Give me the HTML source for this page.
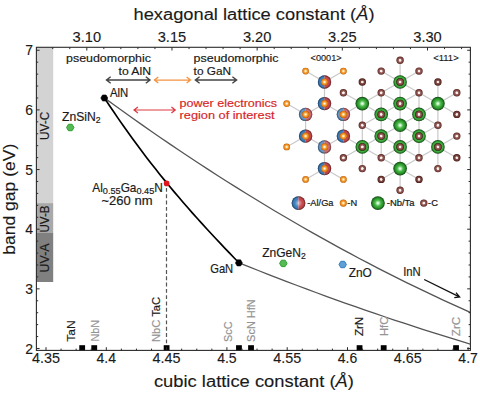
<!DOCTYPE html><html><head><meta charset="utf-8"><style>html,body{margin:0;padding:0;background:#fff;width:480px;height:394px;overflow:hidden}svg{display:block}text{font-family:"Liberation Sans",sans-serif}</style></head><body>
<svg width="480" height="394" viewBox="0 0 480 394">
<defs>
<radialGradient id="gG" cx="0.5" cy="0.5" r="0.5"><stop offset="0" stop-color="#ffffff"/><stop offset="0.15" stop-color="#c4f0c4"/><stop offset="0.42" stop-color="#4ab94a"/><stop offset="0.72" stop-color="#2a942a"/><stop offset="0.88" stop-color="#1b6a1b"/><stop offset="1" stop-color="#0c3a0c"/></radialGradient>
<radialGradient id="gGC" cx="0.5" cy="0.5" r="0.5"><stop offset="0" stop-color="#48b448"/><stop offset="0.66" stop-color="#46b246"/><stop offset="0.8" stop-color="#2f9a2f"/><stop offset="0.92" stop-color="#1a641a"/><stop offset="1" stop-color="#0c3a0c"/></radialGradient>
<radialGradient id="gC" cx="0.5" cy="0.5" r="0.5"><stop offset="0" stop-color="#ffffff"/><stop offset="0.3" stop-color="#f2e4e4"/><stop offset="0.42" stop-color="#a06a66"/><stop offset="0.8" stop-color="#7a3f3a"/><stop offset="1" stop-color="#4e1f1b"/></radialGradient>
<radialGradient id="gCd" cx="0.5" cy="0.5" r="0.5"><stop offset="0" stop-color="#ffffff"/><stop offset="0.3" stop-color="#eadada"/><stop offset="0.42" stop-color="#8a5450"/><stop offset="0.8" stop-color="#633029"/><stop offset="1" stop-color="#3e1612"/></radialGradient>
<radialGradient id="gShade" cx="0.5" cy="0.5" r="0.5"><stop offset="0" stop-color="#fff" stop-opacity="0.6"/><stop offset="0.45" stop-color="#fff" stop-opacity="0.12"/><stop offset="0.72" stop-color="#000" stop-opacity="0"/><stop offset="0.88" stop-color="#000" stop-opacity="0.3"/><stop offset="1" stop-color="#000" stop-opacity="0.55"/></radialGradient>
<radialGradient id="gO" cx="0.5" cy="0.5" r="0.5"><stop offset="0" stop-color="#ffffff"/><stop offset="0.22" stop-color="#ffe2b0"/><stop offset="0.5" stop-color="#f7a030"/><stop offset="0.85" stop-color="#e07a10"/><stop offset="1" stop-color="#b85a08"/></radialGradient>
<clipPath id="plot"><rect x="36.4" y="47.3" width="434" height="303.1"/></clipPath>
</defs>
<rect x="36.4" y="47.3" width="16.8" height="155.8" fill="#d3d3d3"/>
<rect x="36.4" y="203.1" width="16.8" height="29.4" fill="#a9a9a9"/>
<rect x="36.4" y="232.5" width="16.8" height="49.5" fill="#808080"/>
<text transform="translate(49.30,125.90) rotate(-90)" font-size="12.0" text-anchor="middle" fill="#1a1a1a" stroke="#1a1a1a" stroke-width="0.18" textLength="28" lengthAdjust="spacingAndGlyphs">UV-C</text>
<text transform="translate(49.30,219.00) rotate(-90)" font-size="12.0" text-anchor="middle" fill="#1a1a1a" stroke="#1a1a1a" stroke-width="0.18" textLength="27" lengthAdjust="spacingAndGlyphs">UV-B</text>
<text transform="translate(49.30,257.90) rotate(-90)" font-size="12.0" text-anchor="middle" fill="#1a1a1a" stroke="#1a1a1a" stroke-width="0.18" textLength="29" lengthAdjust="spacingAndGlyphs">UV-A</text>
<line x1="166.5" y1="187.95" x2="166.5" y2="350.4" stroke="#555" stroke-width="1.2" stroke-dasharray="3.9,2.41"/>
<g clip-path="url(#plot)">
<path d="M104.40,97.90L113.83,104.75L123.25,111.53L132.68,118.24L142.10,124.88L151.53,131.45L160.95,137.95L170.38,144.38L179.81,150.74L189.23,157.02L198.66,163.24L208.08,169.39L217.51,175.47L226.93,181.47L236.36,187.41L245.78,193.27L255.21,199.07L264.64,204.80L274.06,210.45L283.49,216.04L292.91,221.56L302.34,227.00L311.76,232.38L321.19,237.68L330.62,242.92L340.04,248.09L349.47,253.18L358.89,258.21L368.32,263.17L377.74,268.06L387.17,272.88L396.59,277.63L406.02,282.31L415.45,286.92L424.87,291.46L434.30,295.93L443.72,300.33L453.15,304.66L462.57,308.93L472.00,313.12" fill="none" stroke="#555" stroke-width="1.3" stroke-linejoin="round"/>
<path d="M238.90,262.78L248.61,266.67L258.32,270.52L268.04,274.33L277.75,278.09L287.46,281.82L297.18,285.50L306.89,289.14L316.60,292.74L326.31,296.29L336.02,299.81L345.74,303.28L355.45,306.71L365.16,310.10L374.88,313.45L384.59,316.75L394.30,320.02L404.01,323.24L413.73,326.42L423.44,329.56L433.15,332.65L442.86,335.71L452.58,338.72L462.29,341.69L472.00,344.62" fill="none" stroke="#555" stroke-width="1.3" stroke-linejoin="round"/>
<path d="M104.40,97.88L109.04,104.93L113.68,111.84L118.31,118.63L122.95,125.30L127.59,131.84L132.23,138.27L136.87,144.60L141.50,150.81L146.14,156.92L150.78,162.93L155.42,168.84L160.06,174.66L164.69,180.38L169.33,186.03L173.97,191.59L178.61,197.07L183.24,202.47L187.88,207.81L192.52,213.07L197.16,218.27L201.80,223.41L206.43,228.50L211.07,233.52L215.71,238.50L220.35,243.44L224.99,248.33L229.62,253.18L234.26,257.99L238.90,262.78" fill="none" stroke="#000" stroke-width="1.7" stroke-linejoin="round"/>
</g>
<polygon points="107.80,98.00 106.05,101.03 102.55,101.03 100.80,98.00 102.55,94.97 106.05,94.97" fill="#000" stroke="#000" stroke-width="0.6"/>
<polygon points="242.40,262.90 240.65,265.93 237.15,265.93 235.40,262.90 237.15,259.87 240.65,259.87" fill="#000" stroke="#000" stroke-width="0.6"/>
<circle cx="166.6" cy="183.4" r="2.85" fill="#e0161e"/>
<polygon points="73.95,127.50 72.10,130.70 68.40,130.70 66.55,127.50 68.40,124.30 72.10,124.30" fill="#55b955" stroke="#2ca02c" stroke-width="1"/>
<polygon points="287.00,263.40 285.15,266.60 281.45,266.60 279.60,263.40 281.45,260.20 285.15,260.20" fill="#55b955" stroke="#2ca02c" stroke-width="1"/>
<polygon points="346.40,264.50 344.55,267.70 340.85,267.70 339.00,264.50 340.85,261.30 344.55,261.30" fill="#5e9fd6" stroke="#2f7fc1" stroke-width="1"/>
<rect x="79.28" y="345.2" width="5.8" height="5.8" fill="#000"/>
<rect x="91.34" y="345.2" width="5.8" height="5.8" fill="#000"/>
<rect x="163.70" y="345.2" width="5.8" height="5.8" fill="#000"/>
<rect x="236.06" y="345.2" width="5.8" height="5.8" fill="#000"/>
<rect x="248.12" y="345.2" width="5.8" height="5.8" fill="#000"/>
<rect x="356.66" y="345.2" width="5.8" height="5.8" fill="#000"/>
<rect x="380.78" y="345.2" width="5.8" height="5.8" fill="#000"/>
<rect x="453.14" y="345.2" width="5.8" height="5.8" fill="#000"/>
<rect x="36.4" y="47.3" width="434.0" height="303.1" fill="none" stroke="#2b2b2b" stroke-width="1.1"/>
<path d="M36.4,348.50h3.2M470.4,348.50h-3.2M36.4,336.57h1.8M470.4,336.57h-1.8M36.4,324.64h1.8M470.4,324.64h-1.8M36.4,312.71h1.8M470.4,312.71h-1.8M36.4,300.78h1.8M470.4,300.78h-1.8M36.4,288.85h3.2M470.4,288.85h-3.2M36.4,276.92h1.8M470.4,276.92h-1.8M36.4,264.99h1.8M470.4,264.99h-1.8M36.4,253.06h1.8M470.4,253.06h-1.8M36.4,241.13h1.8M470.4,241.13h-1.8M36.4,229.20h3.2M470.4,229.20h-3.2M36.4,217.27h1.8M470.4,217.27h-1.8M36.4,205.34h1.8M470.4,205.34h-1.8M36.4,193.41h1.8M470.4,193.41h-1.8M36.4,181.48h1.8M470.4,181.48h-1.8M36.4,169.55h3.2M470.4,169.55h-3.2M36.4,157.62h1.8M470.4,157.62h-1.8M36.4,145.69h1.8M470.4,145.69h-1.8M36.4,133.76h1.8M470.4,133.76h-1.8M36.4,121.83h1.8M470.4,121.83h-1.8M36.4,109.90h3.2M470.4,109.90h-3.2M36.4,97.97h1.8M470.4,97.97h-1.8M36.4,86.04h1.8M470.4,86.04h-1.8M36.4,74.11h1.8M470.4,74.11h-1.8M36.4,62.18h1.8M470.4,62.18h-1.8M36.4,50.25h3.2M470.4,50.25h-3.2M46.00,350.4v-3.2M61.08,350.4v-1.8M76.15,350.4v-1.8M91.22,350.4v-1.8M106.30,350.4v-3.2M121.38,350.4v-1.8M136.45,350.4v-1.8M151.53,350.4v-1.8M166.60,350.4v-3.2M181.67,350.4v-1.8M196.75,350.4v-1.8M211.83,350.4v-1.8M226.90,350.4v-3.2M241.97,350.4v-1.8M257.05,350.4v-1.8M272.12,350.4v-1.8M287.20,350.4v-3.2M302.28,350.4v-1.8M317.35,350.4v-1.8M332.42,350.4v-1.8M347.50,350.4v-3.2M362.58,350.4v-1.8M377.65,350.4v-1.8M392.72,350.4v-1.8M407.80,350.4v-3.2M422.88,350.4v-1.8M437.95,350.4v-1.8M453.03,350.4v-1.8M468.10,350.4v-3.2M52.73,47.3v1.8M69.77,47.3v1.8M86.80,47.3v3.2M103.83,47.3v1.8M120.87,47.3v1.8M137.90,47.3v1.8M154.94,47.3v1.8M171.97,47.3v3.2M189.01,47.3v1.8M206.04,47.3v1.8M223.08,47.3v1.8M240.11,47.3v1.8M257.15,47.3v3.2M274.18,47.3v1.8M291.22,47.3v1.8M308.25,47.3v1.8M325.29,47.3v1.8M342.32,47.3v3.2M359.36,47.3v1.8M376.39,47.3v1.8M393.43,47.3v1.8M410.46,47.3v1.8M427.50,47.3v3.2M444.53,47.3v1.8M461.57,47.3v1.8" stroke="#2b2b2b" stroke-width="1" fill="none"/>
<text x="33.00" y="353.50" font-size="14.2" text-anchor="end" fill="#1a1a1a" stroke="#1a1a1a" stroke-width="0.12" textLength="7.8" lengthAdjust="spacingAndGlyphs">2</text>
<text x="33.00" y="293.85" font-size="14.2" text-anchor="end" fill="#1a1a1a" stroke="#1a1a1a" stroke-width="0.12" textLength="7.8" lengthAdjust="spacingAndGlyphs">3</text>
<text x="33.00" y="234.20" font-size="14.2" text-anchor="end" fill="#1a1a1a" stroke="#1a1a1a" stroke-width="0.12" textLength="7.8" lengthAdjust="spacingAndGlyphs">4</text>
<text x="33.00" y="174.55" font-size="14.2" text-anchor="end" fill="#1a1a1a" stroke="#1a1a1a" stroke-width="0.12" textLength="7.8" lengthAdjust="spacingAndGlyphs">5</text>
<text x="33.00" y="114.90" font-size="14.2" text-anchor="end" fill="#1a1a1a" stroke="#1a1a1a" stroke-width="0.12" textLength="7.8" lengthAdjust="spacingAndGlyphs">6</text>
<text x="33.00" y="55.25" font-size="14.2" text-anchor="end" fill="#1a1a1a" stroke="#1a1a1a" stroke-width="0.12" textLength="7.8" lengthAdjust="spacingAndGlyphs">7</text>
<text x="46.00" y="363.40" font-size="14.0" text-anchor="middle" fill="#1a1a1a" stroke="#1a1a1a" stroke-width="0.12" textLength="28" lengthAdjust="spacingAndGlyphs">4.35</text>
<text x="106.30" y="363.40" font-size="14.0" text-anchor="middle" fill="#1a1a1a" stroke="#1a1a1a" stroke-width="0.12" textLength="19.5" lengthAdjust="spacingAndGlyphs">4.4</text>
<text x="166.60" y="363.40" font-size="14.0" text-anchor="middle" fill="#1a1a1a" stroke="#1a1a1a" stroke-width="0.12" textLength="28" lengthAdjust="spacingAndGlyphs">4.45</text>
<text x="226.90" y="363.40" font-size="14.0" text-anchor="middle" fill="#1a1a1a" stroke="#1a1a1a" stroke-width="0.12" textLength="19.5" lengthAdjust="spacingAndGlyphs">4.5</text>
<text x="287.20" y="363.40" font-size="14.0" text-anchor="middle" fill="#1a1a1a" stroke="#1a1a1a" stroke-width="0.12" textLength="28" lengthAdjust="spacingAndGlyphs">4.55</text>
<text x="347.50" y="363.40" font-size="14.0" text-anchor="middle" fill="#1a1a1a" stroke="#1a1a1a" stroke-width="0.12" textLength="19.5" lengthAdjust="spacingAndGlyphs">4.6</text>
<text x="407.80" y="363.40" font-size="14.0" text-anchor="middle" fill="#1a1a1a" stroke="#1a1a1a" stroke-width="0.12" textLength="28" lengthAdjust="spacingAndGlyphs">4.65</text>
<text x="468.10" y="363.40" font-size="14.0" text-anchor="middle" fill="#1a1a1a" stroke="#1a1a1a" stroke-width="0.12" textLength="19.5" lengthAdjust="spacingAndGlyphs">4.7</text>
<text x="86.80" y="42.20" font-size="14.0" text-anchor="middle" fill="#1a1a1a" stroke="#1a1a1a" stroke-width="0.12" textLength="28.5" lengthAdjust="spacingAndGlyphs">3.10</text>
<text x="171.97" y="42.20" font-size="14.0" text-anchor="middle" fill="#1a1a1a" stroke="#1a1a1a" stroke-width="0.12" textLength="28.5" lengthAdjust="spacingAndGlyphs">3.15</text>
<text x="257.15" y="42.20" font-size="14.0" text-anchor="middle" fill="#1a1a1a" stroke="#1a1a1a" stroke-width="0.12" textLength="28.5" lengthAdjust="spacingAndGlyphs">3.20</text>
<text x="342.32" y="42.20" font-size="14.0" text-anchor="middle" fill="#1a1a1a" stroke="#1a1a1a" stroke-width="0.12" textLength="28.5" lengthAdjust="spacingAndGlyphs">3.25</text>
<text x="427.50" y="42.20" font-size="14.0" text-anchor="middle" fill="#1a1a1a" stroke="#1a1a1a" stroke-width="0.12" textLength="28.5" lengthAdjust="spacingAndGlyphs">3.30</text>
<text x="254.00" y="19.70" font-size="15.6" text-anchor="middle" fill="#1a1a1a" stroke="#1a1a1a" stroke-width="0.12" textLength="241" lengthAdjust="spacingAndGlyphs">hexagonal lattice constant (<tspan font-style="italic">Å</tspan>)</text>
<text x="253.90" y="386.70" font-size="15.6" text-anchor="middle" fill="#1a1a1a" stroke="#1a1a1a" stroke-width="0.12" textLength="200" lengthAdjust="spacingAndGlyphs">cubic lattice constant (<tspan font-style="italic">Å</tspan>)</text>
<text transform="translate(15.20,199.20) rotate(-90)" font-size="15.6" text-anchor="middle" fill="#1a1a1a" stroke="#1a1a1a" stroke-width="0.12" textLength="111" lengthAdjust="spacingAndGlyphs">band gap (eV)</text>
<text x="110.00" y="97.30" font-size="11.9" text-anchor="start" fill="#1a1a1a" stroke="#1a1a1a" stroke-width="0.18" textLength="18.3" lengthAdjust="spacingAndGlyphs">AlN</text>
<text x="210.20" y="273.40" font-size="12.2" text-anchor="start" fill="#1a1a1a" stroke="#1a1a1a" stroke-width="0.18" textLength="23" lengthAdjust="spacingAndGlyphs">GaN</text>
<text x="62.0" y="120.8" font-size="11.9" fill="#1a1a1a" stroke="#1a1a1a" stroke-width="0.18" textLength="38.5" lengthAdjust="spacingAndGlyphs">ZnSiN<tspan font-size="8.5" dy="2">2</tspan></text>
<text x="262.2" y="256.9" font-size="11.9" fill="#1a1a1a" stroke="#1a1a1a" stroke-width="0.18" textLength="43.5" lengthAdjust="spacingAndGlyphs">ZnGeN<tspan font-size="8.5" dy="2">2</tspan></text>
<text x="348.70" y="276.90" font-size="11.9" text-anchor="start" fill="#1a1a1a" stroke="#1a1a1a" stroke-width="0.18" textLength="23" lengthAdjust="spacingAndGlyphs">ZnO</text>
<text x="403.20" y="276.30" font-size="11.9" text-anchor="start" fill="#1a1a1a" stroke="#1a1a1a" stroke-width="0.18" textLength="17.5" lengthAdjust="spacingAndGlyphs">InN</text>
<path d="M424.2,279.5L459.4,296.8M456.0,292.6L459.6,296.9L454.3,297.7" stroke="#111" stroke-width="1.35" fill="none"/>
<text x="92.3" y="192.3" font-size="11.9" fill="#1a1a1a" stroke="#1a1a1a" stroke-width="0.18" textLength="70.5" lengthAdjust="spacingAndGlyphs">Al<tspan font-size="9.2" dy="1.6">0.55</tspan><tspan dy="-1.6">Ga</tspan><tspan font-size="9.2" dy="1.6">0.45</tspan><tspan dy="-1.6">N</tspan></text>
<text x="127.00" y="205.00" font-size="11.9" text-anchor="middle" fill="#1a1a1a" stroke="#1a1a1a" stroke-width="0.18" textLength="51" lengthAdjust="spacingAndGlyphs">~260 nm</text>
<text x="151.00" y="62.40" font-size="11.6" text-anchor="end" fill="#1a1a1a" stroke="#1a1a1a" stroke-width="0.18" textLength="85" lengthAdjust="spacingAndGlyphs">pseudomorphic</text>
<text x="151.00" y="74.70" font-size="11.6" text-anchor="end" fill="#1a1a1a" stroke="#1a1a1a" stroke-width="0.18" textLength="32.5" lengthAdjust="spacingAndGlyphs">to AlN</text>
<text x="193.60" y="62.40" font-size="11.6" text-anchor="start" fill="#1a1a1a" stroke="#1a1a1a" stroke-width="0.18" textLength="85" lengthAdjust="spacingAndGlyphs">pseudomorphic</text>
<text x="193.60" y="74.70" font-size="11.6" text-anchor="start" fill="#1a1a1a" stroke="#1a1a1a" stroke-width="0.18" textLength="37.5" lengthAdjust="spacingAndGlyphs">to GaN</text>
<path d="M106.5,80.0H150.0M110.7,76.8L106.5,80.0L110.7,83.2M145.8,76.8L150.0,80.0L145.8,83.2" stroke="#444" stroke-width="1.4" fill="none"/>
<path d="M154.4,80.0H190.5M158.3,77.0L154.4,80.0L158.3,83.0M186.6,77.0L190.5,80.0L186.6,83.0" stroke="#f5923e" stroke-width="1.25" fill="none"/>
<path d="M195.4,80.0H236.6M199.6,76.8L195.4,80.0L199.6,83.2M232.4,76.8L236.6,80.0L232.4,83.2" stroke="#444" stroke-width="1.4" fill="none"/>
<path d="M134.0,110.0H175.3M137.9,107.0L134.0,110.0L137.9,113.0M171.4,107.0L175.3,110.0L171.4,113.0" stroke="#dd3a40" stroke-width="1.2" fill="none"/>
<text x="179.60" y="107.20" font-size="11.6" text-anchor="start" fill="#d62728" stroke="#d62728" stroke-width="0.18" textLength="97.5" lengthAdjust="spacingAndGlyphs">power electronics</text>
<text x="179.60" y="118.80" font-size="11.6" text-anchor="start" fill="#d62728" stroke="#d62728" stroke-width="0.18" textLength="95" lengthAdjust="spacingAndGlyphs">region of interest</text>
<text transform="translate(75.00,341.80) rotate(-90)" font-size="11.6" text-anchor="start" fill="#1a1a1a" stroke="#1a1a1a" stroke-width="0.18" textLength="21.5" lengthAdjust="spacingAndGlyphs">TaN</text>
<text transform="translate(98.60,341.60) rotate(-90)" font-size="11.6" text-anchor="start" fill="#939393" stroke="#939393" stroke-width="0.18" textLength="21.5" lengthAdjust="spacingAndGlyphs">NbN</text>
<text transform="translate(160.0,342.0) rotate(-90)" font-size="11.6" fill="#1a1a1a" stroke="#1a1a1a" stroke-width="0.18" textLength="45" lengthAdjust="spacingAndGlyphs"><tspan fill="#939393" stroke="#939393">NbC</tspan> TaC</text>
<text transform="translate(232.40,341.90) rotate(-90)" font-size="11.6" text-anchor="start" fill="#939393" stroke="#939393" stroke-width="0.18" textLength="20.5" lengthAdjust="spacingAndGlyphs">ScC</text>
<text transform="translate(255.30,341.90) rotate(-90)" font-size="11.6" text-anchor="start" fill="#939393" stroke="#939393" stroke-width="0.18" textLength="42.6" lengthAdjust="spacingAndGlyphs">ScN HfN</text>
<text transform="translate(363.00,336.10) rotate(-90)" font-size="11.6" text-anchor="start" fill="#1a1a1a" stroke="#1a1a1a" stroke-width="0.18" textLength="19.2" lengthAdjust="spacingAndGlyphs">ZrN</text>
<text transform="translate(387.70,336.00) rotate(-90)" font-size="11.6" text-anchor="start" fill="#939393" stroke="#939393" stroke-width="0.18" textLength="19.2" lengthAdjust="spacingAndGlyphs">HfC</text>
<text transform="translate(460.10,336.20) rotate(-90)" font-size="11.6" text-anchor="start" fill="#939393" stroke="#939393" stroke-width="0.18" textLength="19.5" lengthAdjust="spacingAndGlyphs">ZrC</text>
<path d="M400.1,125.3L400.1,146.9M419.0,157.8L437.9,146.9M437.9,103.6L437.9,125.3M362.3,146.9L381.2,136.1M419.0,92.8L419.0,114.4M362.3,82.0L362.3,103.6M381.2,157.8L400.1,146.9M400.1,168.6L419.0,179.4M343.4,114.4L362.3,103.6M362.3,125.3L381.2,136.1M419.0,114.4L419.0,136.1M419.0,136.1L437.9,146.9M400.1,103.6L400.1,125.3M381.2,92.8L381.2,114.4M343.4,136.1L362.3,146.9M381.2,92.8L400.1,82.0M437.9,103.6L456.8,114.4M419.0,114.4L437.9,103.6M362.3,146.9L381.2,157.8M400.1,146.9L400.1,168.6M400.1,82.0L419.0,92.8M437.9,125.3L437.9,146.9M437.9,146.9L456.8,157.8M381.2,136.1L400.1,146.9M362.3,103.6L362.3,125.3M381.2,157.8L400.1,168.6M400.1,103.6L419.0,92.8M381.2,114.4L381.2,136.1M381.2,114.4L400.1,103.6M400.1,125.3L419.0,136.1M381.2,179.4L400.1,168.6M400.1,60.3L400.1,82.0M419.0,136.1L419.0,157.8M400.1,146.9L419.0,136.1M400.1,168.6L419.0,157.8M343.4,92.8L362.3,103.6M362.3,103.6L381.2,92.8M437.9,82.0L437.9,103.6M362.3,125.3L381.2,114.4M400.1,168.6L400.1,190.3M381.2,71.1L400.1,82.0M400.1,103.6L419.0,114.4M419.0,92.8L437.9,103.6M437.9,103.6L456.8,92.8M381.2,114.4L400.1,125.3M381.2,136.1L381.2,157.8M343.4,157.8L362.3,146.9M362.3,125.3L362.3,146.9M400.1,146.9L419.0,157.8M437.9,146.9L437.9,168.6M381.2,136.1L400.1,125.3M400.1,82.0L419.0,71.1M362.3,146.9L362.3,168.6M381.2,92.8L400.1,103.6M437.9,146.9L456.8,136.1M419.0,114.4L437.9,125.3M400.1,82.0L400.1,103.6M362.3,103.6L381.2,114.4M400.1,125.3L419.0,114.4M419.0,136.1L437.9,125.3M324.5,82.0L305.6,71.1M324.5,82.0L343.4,71.1M324.5,82.0L324.5,103.6M324.5,103.6L305.6,114.4M324.5,103.6L343.4,114.4M305.6,114.4L286.7,103.6M305.6,114.4L305.6,136.1M343.4,114.4L343.4,136.1M305.6,136.1L286.7,146.9M305.6,136.1L324.5,146.9M343.4,136.1L324.5,146.9M324.5,146.9L324.5,168.6M324.5,168.6L305.6,179.4M324.5,168.6L343.4,179.4" stroke="#c9c9c9" stroke-width="1.2" fill="none"/>
<circle cx="400.1" cy="60.3" r="3.7" fill="url(#gC)"/>
<circle cx="381.2" cy="71.1" r="3.7" fill="url(#gC)"/>
<circle cx="419.0" cy="71.1" r="3.7" fill="url(#gC)"/>
<circle cx="362.3" cy="82.0" r="3.7" fill="url(#gCd)"/>
<circle cx="437.9" cy="82.0" r="3.7" fill="url(#gCd)"/>
<circle cx="343.4" cy="92.8" r="3.7" fill="url(#gC)"/>
<circle cx="381.2" cy="92.8" r="3.7" fill="url(#gC)"/>
<circle cx="419.0" cy="92.8" r="3.7" fill="url(#gC)"/>
<circle cx="456.8" cy="92.8" r="3.7" fill="url(#gC)"/>
<circle cx="456.8" cy="114.4" r="3.7" fill="url(#gCd)"/>
<circle cx="362.3" cy="125.3" r="3.7" fill="url(#gC)"/>
<circle cx="437.9" cy="125.3" r="3.7" fill="url(#gC)"/>
<circle cx="456.8" cy="136.1" r="3.7" fill="url(#gC)"/>
<circle cx="343.4" cy="157.8" r="3.7" fill="url(#gC)"/>
<circle cx="381.2" cy="157.8" r="3.7" fill="url(#gC)"/>
<circle cx="419.0" cy="157.8" r="3.7" fill="url(#gC)"/>
<circle cx="456.8" cy="157.8" r="3.7" fill="url(#gCd)"/>
<circle cx="362.3" cy="168.6" r="3.7" fill="url(#gC)"/>
<circle cx="437.9" cy="168.6" r="3.7" fill="url(#gC)"/>
<circle cx="381.2" cy="179.4" r="3.7" fill="url(#gCd)"/>
<circle cx="419.0" cy="179.4" r="3.7" fill="url(#gCd)"/>
<circle cx="400.1" cy="190.3" r="3.7" fill="url(#gC)"/>
<circle cx="362.3" cy="103.6" r="6.8" fill="url(#gG)"/>
<circle cx="437.9" cy="103.6" r="6.8" fill="url(#gG)"/>
<circle cx="400.1" cy="125.3" r="6.8" fill="url(#gG)"/>
<circle cx="400.1" cy="168.6" r="6.8" fill="url(#gG)"/>
<circle cx="400.1" cy="82.0" r="6.8" fill="url(#gGC)"/>
<circle cx="400.1" cy="82.0" r="4.0" fill="#1e6a1e"/>
<circle cx="400.1" cy="82.0" r="3.7" fill="url(#gC)"/>
<circle cx="400.1" cy="103.6" r="6.8" fill="url(#gGC)"/>
<circle cx="400.1" cy="103.6" r="4.0" fill="#1e6a1e"/>
<circle cx="400.1" cy="103.6" r="3.7" fill="url(#gC)"/>
<circle cx="381.2" cy="114.4" r="6.8" fill="url(#gGC)"/>
<circle cx="381.2" cy="114.4" r="4.0" fill="#1e6a1e"/>
<circle cx="381.2" cy="114.4" r="3.7" fill="url(#gC)"/>
<circle cx="419.0" cy="114.4" r="6.8" fill="url(#gGC)"/>
<circle cx="419.0" cy="114.4" r="4.0" fill="#1e6a1e"/>
<circle cx="419.0" cy="114.4" r="3.7" fill="url(#gC)"/>
<circle cx="381.2" cy="136.1" r="6.8" fill="url(#gGC)"/>
<circle cx="381.2" cy="136.1" r="4.0" fill="#1e6a1e"/>
<circle cx="381.2" cy="136.1" r="3.7" fill="url(#gC)"/>
<circle cx="419.0" cy="136.1" r="6.8" fill="url(#gGC)"/>
<circle cx="419.0" cy="136.1" r="4.0" fill="#1e6a1e"/>
<circle cx="419.0" cy="136.1" r="3.7" fill="url(#gC)"/>
<circle cx="362.3" cy="146.9" r="6.8" fill="url(#gGC)"/>
<circle cx="362.3" cy="146.9" r="4.0" fill="#1e6a1e"/>
<circle cx="362.3" cy="146.9" r="3.7" fill="url(#gC)"/>
<circle cx="400.1" cy="146.9" r="6.8" fill="url(#gGC)"/>
<circle cx="400.1" cy="146.9" r="4.0" fill="#1e6a1e"/>
<circle cx="400.1" cy="146.9" r="3.7" fill="url(#gC)"/>
<circle cx="437.9" cy="146.9" r="6.8" fill="url(#gGC)"/>
<circle cx="437.9" cy="146.9" r="4.0" fill="#1e6a1e"/>
<circle cx="437.9" cy="146.9" r="3.7" fill="url(#gC)"/>
<circle cx="305.6" cy="71.1" r="3.4" fill="url(#gO)"/>
<circle cx="343.4" cy="71.1" r="3.4" fill="url(#gO)"/>
<circle cx="286.7" cy="103.6" r="3.4" fill="url(#gO)"/>
<circle cx="286.7" cy="146.9" r="3.4" fill="url(#gO)"/>
<circle cx="305.6" cy="179.4" r="3.4" fill="url(#gO)"/>
<circle cx="343.4" cy="179.4" r="3.4" fill="url(#gO)"/>
<path d="M324.5,75.3A6.7,6.7 0 0 0 324.5,88.7Z" fill="#3d7fc0"/>
<path d="M324.5,75.3A6.7,6.7 0 0 1 324.5,88.7Z" fill="#c9474d"/>
<circle cx="324.5" cy="82.0" r="6.7" fill="url(#gShade)"/>
<circle cx="324.5" cy="82.0" r="3.6" fill="url(#gO)"/>
<path d="M324.5,96.9A6.7,6.7 0 0 0 324.5,110.3Z" fill="#3d7fc0"/>
<path d="M324.5,96.9A6.7,6.7 0 0 1 324.5,110.3Z" fill="#c9474d"/>
<circle cx="324.5" cy="103.6" r="6.7" fill="url(#gShade)"/>
<circle cx="324.5" cy="103.6" r="3.6" fill="url(#gO)"/>
<path d="M305.6,107.7A6.7,6.7 0 0 0 305.6,121.1Z" fill="#3d7fc0" fill-opacity="0.78"/>
<path d="M305.6,107.7A6.7,6.7 0 0 1 305.6,121.1Z" fill="#c9474d" fill-opacity="0.78"/>
<circle cx="305.6" cy="114.4" r="6.7" fill="url(#gShade)"/>
<circle cx="305.6" cy="114.4" r="3.6" fill="url(#gO)"/>
<path d="M343.4,107.7A6.7,6.7 0 0 0 343.4,121.1Z" fill="#3d7fc0" fill-opacity="0.78"/>
<path d="M343.4,107.7A6.7,6.7 0 0 1 343.4,121.1Z" fill="#c9474d" fill-opacity="0.78"/>
<circle cx="343.4" cy="114.4" r="6.7" fill="url(#gShade)"/>
<circle cx="343.4" cy="114.4" r="3.6" fill="url(#gO)"/>
<path d="M305.6,129.4A6.7,6.7 0 0 0 305.6,142.8Z" fill="#3d7fc0"/>
<path d="M305.6,129.4A6.7,6.7 0 0 1 305.6,142.8Z" fill="#c9474d"/>
<circle cx="305.6" cy="136.1" r="6.7" fill="url(#gShade)"/>
<circle cx="305.6" cy="136.1" r="3.6" fill="url(#gO)"/>
<path d="M343.4,129.4A6.7,6.7 0 0 0 343.4,142.8Z" fill="#3d7fc0"/>
<path d="M343.4,129.4A6.7,6.7 0 0 1 343.4,142.8Z" fill="#c9474d"/>
<circle cx="343.4" cy="136.1" r="6.7" fill="url(#gShade)"/>
<circle cx="343.4" cy="136.1" r="3.6" fill="url(#gO)"/>
<path d="M324.5,140.2A6.7,6.7 0 0 0 324.5,153.6Z" fill="#3d7fc0" fill-opacity="0.78"/>
<path d="M324.5,140.2A6.7,6.7 0 0 1 324.5,153.6Z" fill="#c9474d" fill-opacity="0.78"/>
<circle cx="324.5" cy="146.9" r="6.7" fill="url(#gShade)"/>
<circle cx="324.5" cy="146.9" r="3.6" fill="url(#gO)"/>
<path d="M324.5,161.9A6.7,6.7 0 0 0 324.5,175.3Z" fill="#3d7fc0"/>
<path d="M324.5,161.9A6.7,6.7 0 0 1 324.5,175.3Z" fill="#c9474d"/>
<circle cx="324.5" cy="168.6" r="6.7" fill="url(#gShade)"/>
<circle cx="324.5" cy="168.6" r="3.6" fill="url(#gO)"/>
<text x="310.60" y="61.30" font-size="8.8" text-anchor="start" fill="#1a1a1a" stroke="#1a1a1a" stroke-width="0.15" textLength="31" lengthAdjust="spacingAndGlyphs">&lt;0001&gt;</text>
<text x="433.20" y="61.30" font-size="8.8" text-anchor="start" fill="#1a1a1a" stroke="#1a1a1a" stroke-width="0.15" textLength="25.5" lengthAdjust="spacingAndGlyphs">&lt;111&gt;</text>
<path d="M298.5,196.2A6.9,6.9 0 0 0 298.5,210.0Z" fill="#3d7fc0"/>
<path d="M298.5,196.2A6.9,6.9 0 0 1 298.5,210.0Z" fill="#c9474d"/>
<circle cx="298.5" cy="203.1" r="6.9" fill="url(#gShade)"/>
<text x="307.30" y="206.30" font-size="9.3" text-anchor="start" fill="#1a1a1a" stroke="#1a1a1a" stroke-width="0.22" textLength="26.2" lengthAdjust="spacingAndGlyphs">-Al/Ga</text>
<circle cx="343.3" cy="203.1" r="3.6" fill="url(#gO)"/>
<text x="347.30" y="206.30" font-size="9.3" text-anchor="start" fill="#1a1a1a" stroke="#1a1a1a" stroke-width="0.22" textLength="9.8" lengthAdjust="spacingAndGlyphs">-N</text>
<circle cx="377.9" cy="203.1" r="6.9" fill="url(#gG)"/>
<text x="386.80" y="206.30" font-size="9.3" text-anchor="start" fill="#1a1a1a" stroke="#1a1a1a" stroke-width="0.22" textLength="27.8" lengthAdjust="spacingAndGlyphs">-Nb/Ta</text>
<circle cx="423.8" cy="203.1" r="3.7" fill="url(#gC)"/>
<text x="428.10" y="206.30" font-size="9.3" text-anchor="start" fill="#1a1a1a" stroke="#1a1a1a" stroke-width="0.22" textLength="9.8" lengthAdjust="spacingAndGlyphs">-C</text>
</svg></body></html>
